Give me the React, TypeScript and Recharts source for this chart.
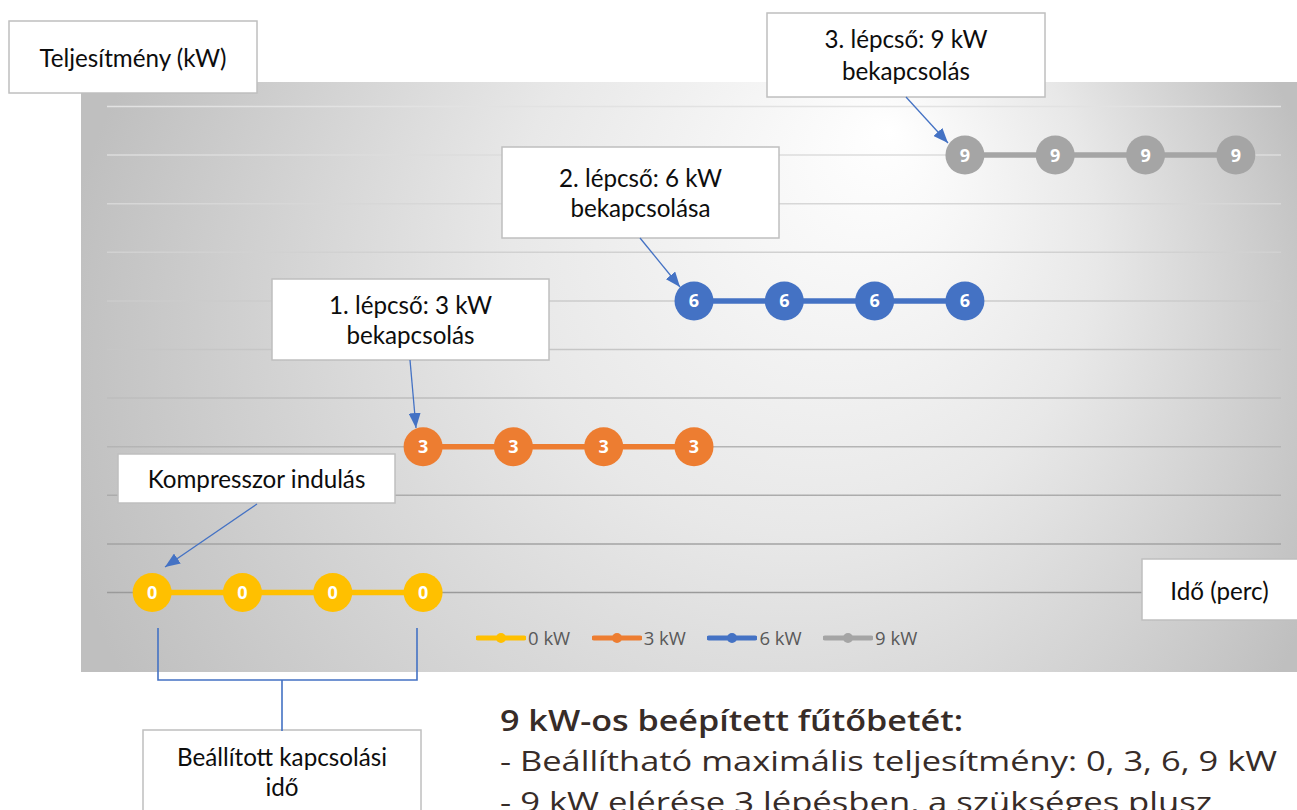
import React from 'react';
import { LineChart, Line, XAxis, YAxis, CartesianGrid, Legend } from 'recharts';

// time steps (category axis, labels not shown)
const steps = ['0', '1', '2', '3', '4', '5', '6', '7', '8', '9', '10', '11', '12'];

// power level of each heater step at each time slot (kW)
const kw0 = [0, 0, 0, 0, null, null, null, null, null, null, null, null, null];
const kw3 = [null, null, null, 3, 3, 3, 3, null, null, null, null, null, null];
const kw6 = [null, null, null, null, null, null, 6, 6, 6, 6, null, null, null];
const kw9 = [null, null, null, null, null, null, null, null, null, 9, 9, 9, 9];

const yTicks = [0, 1, 2, 3, 4, 5, 6, 7, 8, 9, 10];

const seriesNames = ['0 kW', '3 kW', '6 kW', '9 kW'];
const COLORS = ['#FFC000', '#ED7D31', '#4472C4', '#A5A5A5'];

const chartData = steps.map((s, i) => ({
  step: s,
  '0 kW': kw0[i],
  '3 kW': kw3[i],
  '6 kW': kw6[i],
  '9 kW': kw9[i],
}));

const BOX_FONT = "Lato, 'Open Sans', sans-serif";

function makeDot(color: string) {
  // eslint-disable-next-line @typescript-eslint/no-explicit-any
  return (props: any) => {
    const { cx, cy, value, index } = props;
    if (value == null || cx == null || cy == null) return <g key={`d-${index}`} />;
    return (
      <g key={`d-${index}`}>
        <circle cx={cx} cy={cy} r={19.5} fill={color} />
        <text
          x={cx}
          y={cy}
          dy="0.36em"
          textAnchor="middle"
          fill="#ffffff"
          fontWeight={700}
          fontSize={18}
          fontFamily="'Open Sans', sans-serif"
        >
          {value}
        </text>
      </g>
    );
  };
}

// eslint-disable-next-line @typescript-eslint/no-explicit-any
function LegendContent(props: any) {
  const payload = props.payload || [];
  return (
    <div style={{ display: 'flex', alignItems: 'center' }}>
      {/* eslint-disable-next-line @typescript-eslint/no-explicit-any */}
      {payload.map((p: any) => (
        <div key={p.value} style={{ display: 'flex', alignItems: 'center', width: 115.7 }}>
          <svg width={50} height={14}>
            <line x1={2} y1={7} x2={48} y2={7} stroke={p.color} strokeWidth={5} strokeLinecap="round" />
            <circle cx={25} cy={7} r={5} fill={p.color} />
          </svg>
          <span
            style={{
              marginLeft: 2,
              fontSize: 18.5,
              color: '#595959',
              fontFamily: "'Open Sans', sans-serif",
              lineHeight: '20px',
            }}
          >
            {p.value}
          </span>
        </div>
      ))}
    </div>
  );
}

function Box({ x, y, w, h, lines, baselines, cx }: {
  x: number; y: number; w: number; h: number; lines: string[]; baselines: number[]; cx?: number;
}) {
  const mid = cx ?? x + w / 2;
  return (
    <g>
      <rect x={x} y={y} width={w} height={h} fill="#ffffff" stroke="#bfbfbf" strokeWidth={1.5} />
      {lines.map((t, i) => (
        <text key={i} x={mid} y={baselines[i]} textAnchor="middle" fontSize={24.2} fill="#0d0d0d" fontFamily={BOX_FONT}>
          {t}
        </text>
      ))}
    </g>
  );
}

export default function App() {
  return (
    <div
      style={{
        position: 'absolute',
        left: 0,
        top: 0,
        width: 1297,
        height: 810,
        background: '#ffffff',
        overflow: 'hidden',
      }}
    >
      {/* plot background with off-centre radial gradient */}
      <svg width={1297} height={810} style={{ position: 'absolute', left: 0, top: 0 }}>
        <defs>
          <radialGradient id="plotBg" gradientUnits="userSpaceOnUse" cx={700} cy={380} r={650} fx={890} fy={130}>
            <stop offset="0" stopColor="#ffffff" />
            <stop offset="0.45" stopColor="#e8e8e8" />
            <stop offset="1" stopColor="#bfbfbf" />
          </radialGradient>
          <linearGradient id="gridGrad" gradientUnits="userSpaceOnUse" x1={0} y1={106} x2={0} y2={593}>
            <stop offset="0" stopColor="#e2e2e2" />
            <stop offset="0.5" stopColor="#c6c6c6" />
            <stop offset="1" stopColor="#9a9a9a" />
          </linearGradient>
        </defs>
        <rect x={81} y={82} width={1216} height={590} fill="url(#plotBg)" />
      </svg>

      <div style={{ position: 'absolute', left: 0, top: 0 }}>
        <LineChart
          width={1297}
          height={810}
          data={chartData}
          margin={{ top: 106.5, right: 16, bottom: 217.5, left: 107 }}
        >
          <CartesianGrid vertical={false} stroke="url(#gridGrad)" strokeWidth={1.5} />
          <XAxis dataKey="step" type="category" scale="band" hide />
          <YAxis domain={[0, 10]} ticks={yTicks} type="number" hide />
          <Legend
            layout="horizontal"
            verticalAlign="middle"
            align="center"
            content={<LegendContent />}
            wrapperStyle={{ left: 476, top: 628, width: 470, height: 20 }}
          />
          {seriesNames.map((name, i) => (
            <Line
              key={name}
              type="linear"
              dataKey={name}
              name={name}
              stroke={COLORS[i]}
              strokeWidth={5.5}
              dot={makeDot(COLORS[i])}
              activeDot={false}
              isAnimationActive={false}
            />
          ))}
        </LineChart>
      </div>

      {/* annotations */}
      <svg width={1297} height={810} style={{ position: 'absolute', left: 0, top: 0, pointerEvents: 'none' }}>
        <defs>
          <marker
            id="arrowHead"
            markerUnits="userSpaceOnUse"
            markerWidth={15}
            markerHeight={12}
            refX={15}
            refY={6}
            orient="auto"
          >
            <path d="M0,0 L15,6 L0,12 z" fill="#4472C4" />
          </marker>
        </defs>

        <Box x={9} y={21} w={248} h={72} lines={['Teljesítmény (kW)']} baselines={[67]} />
        <Box x={767} y={13} w={278} h={84} lines={['3. lépcső: 9 kW', 'bekapcsolás']} baselines={[48, 80]} />
        <Box x={502} y={147} w={277} h={91} lines={['2. lépcső: 6 kW', 'bekapcsolása']} baselines={[187, 217]} />
        <Box x={272} y={279} w={277} h={81} lines={['1. lépcső: 3 kW', 'bekapcsolás']} baselines={[314, 344]} />
        <Box x={118} y={454} w={277} h={49} lines={['Kompresszor indulás']} baselines={[488]} />
        <Box x={1142} y={559} w={170} h={61} lines={['Idő (perc)']} baselines={[600]} cx={1219.5} />
        <Box x={143} y={730} w={278} h={100} lines={['Beállított kapcsolási', 'idő']} baselines={[766, 796]} />

        <g stroke="#4472C4" strokeWidth={1.3} fill="none">
          <line x1={257} y1={504} x2={165} y2={567} markerEnd="url(#arrowHead)" />
          <line x1={410} y1={360} x2={416} y2={428} markerEnd="url(#arrowHead)" />
          <line x1={640} y1={238} x2={680} y2={287} markerEnd="url(#arrowHead)" />
          <line x1={906} y1={97} x2={948} y2={143} markerEnd="url(#arrowHead)" />
          <path d="M158 628 V680 H417 V628 M282 680 V731" strokeWidth={1.6} />
        </g>

        <g fontFamily="'Open Sans', Lato, sans-serif" fill="#372c28">
          <text x={500} y={731} fontSize={28} fontWeight={600} textLength={463} lengthAdjust="spacingAndGlyphs">
            9 kW-os beépített fűtőbetét:
          </text>
          <text x={500} y={771} fontSize={28} textLength={777} lengthAdjust="spacingAndGlyphs">
            - Beállítható maximális teljesítmény: 0, 3, 6, 9 kW
          </text>
          <text x={500} y={812} fontSize={28} textLength={712} lengthAdjust="spacingAndGlyphs">
            - 9 kW elérése 3 lépésben, a szükséges plusz
          </text>
        </g>
      </svg>
    </div>
  );
}
